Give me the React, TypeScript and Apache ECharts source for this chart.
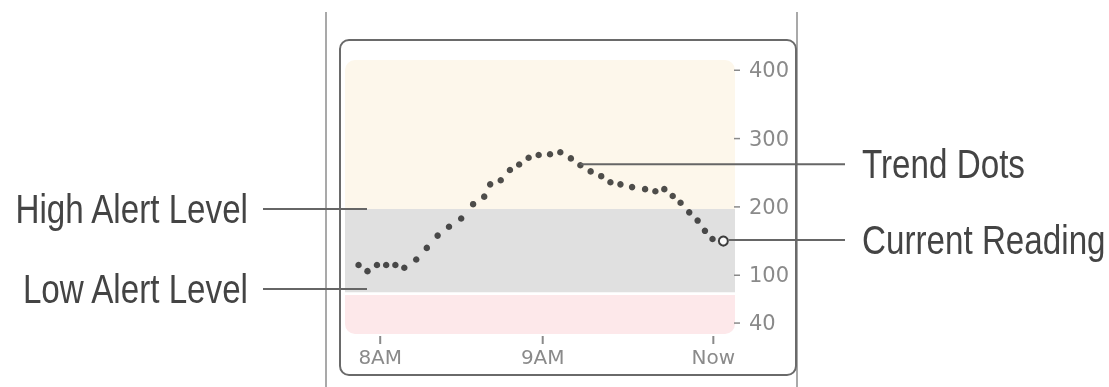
import React, { useEffect, useRef } from "react";
import * as echarts from "echarts";

// Trend dots: minutes after 8AM and glucose reading (display scale)
const minutes = [-8.0, -4.7, -1.2, 2.2, 5.6, 8.9, 13.3, 17.2, 21.2, 25.4, 29.9, 34.3, 38.4, 40.6, 44.5, 47.9, 51.3, 54.8, 58.5, 62.7, 66.5, 70.4, 73.9, 77.7, 81.6, 85.0, 88.7, 93.0, 97.8, 101.6, 104.9, 108.0, 110.9, 114.1, 117.2, 119.9, 122.7];
const glucose = [115, 106, 115, 115, 115, 111, 123, 140, 158, 171, 183, 204, 215, 233, 239, 254, 262, 272, 276, 277, 280, 271, 261, 252, 245, 236, 233, 229, 226, 223, 226, 216, 206, 192, 180, 165, 153];
const currentMinute = [126.7];
const currentValue = [150];

// Axis ticks
const xTickValues = [0, 60, 123];
const xTickLabels = ["8AM", "9AM", "Now"];
const yTickValues = [30, 100, 200, 300, 400];
const yTickLabels = ["40", "100", "200", "300", "400"];

// Bands (display scale): high, target, low
const bandFrom = [197, 75, 14];
const bandTo = [415, 197, 71];
const bandColors = ["#fdf7eb", "#e0e0e0", "#fde8ea"];
const bandRadii = [[10, 10, 0, 0], [0, 0, 0, 0], [0, 0, 10, 10]];

// Callouts
const highAlert = 197;
const lowAlert = 80;
const trendDotIndex = 22;

const X_MIN = -13;
const X_MAX = 131;
const Y_MIN = 14;
const Y_MAX = 415;

export default function App() {
  const ref = useRef<HTMLDivElement>(null);
  useEffect(() => {
    if (!ref.current) return;
    const chart = echarts.init(ref.current, null, { renderer: "svg" });
    const labelFont = "'DejaVu Sans', sans-serif";
    const tickColor = "#8a8a8a";
    chart.setOption({
      animation: false,
      grid: { left: 345, right: 374, top: 60, height: 274 },
      xAxis: {
        type: "value",
        min: X_MIN,
        max: X_MAX,
        axisLine: { show: false },
        splitLine: { show: false },
        axisTick: { show: false },
        axisLabel: {
          customValues: xTickValues,
          formatter: (v: number) => {
            const i = xTickValues.indexOf(v);
            return i < 0 ? "" : `{t| }\n{l|${xTickLabels[i]}}`;
          },
          margin: 2,
          rich: {
            t: { width: 2, height: 8, lineHeight: 8, fontSize: 8, backgroundColor: tickColor },
            l: { color: "#8a8a8a", fontSize: 20, lineHeight: 26, fontFamily: labelFont },
          },
        },
      },
      yAxis: {
        type: "value",
        position: "right",
        min: Y_MIN,
        max: Y_MAX,
        axisLine: { show: false },
        splitLine: { show: false },
        axisTick: { show: false },
        axisLabel: {
          customValues: yTickValues,
          formatter: (v: number) => yTickLabels[yTickValues.indexOf(v)] ?? "",
          color: "#8a8a8a",
          fontSize: 21,
          fontFamily: labelFont,
          margin: 14,
        },
      },
      series: [
        {
          type: "custom",
          silent: true,
          z: 1,
          data: bandFrom.map((f, i) => [f, bandTo[i]]),
          encode: { y: [0, 1] },
          renderItem: (params: any, api: any) => {
            const i = params.dataIndex;
            const cs = params.coordSys;
            const yTop = api.coord([0, api.value(1)])[1];
            const yBot = api.coord([0, api.value(0)])[1];
            return {
              type: "rect",
              shape: { x: cs.x, y: yTop, width: cs.width, height: yBot - yTop, r: bandRadii[i] },
              style: { fill: bandColors[i] },
            };
          },
        },
        {
          // y-axis tick marks
          type: "custom",
          silent: true,
          clip: false,
          z: 2,
          data: yTickValues.map((v) => [X_MAX, v]),
          renderItem: (params: any, api: any) => {
            const p = api.coord([api.value(0), api.value(1)]);
            return {
              type: "line",
              shape: { x1: p[0] - 1, y1: p[1], x2: p[0] + 5, y2: p[1] },
              style: { stroke: tickColor, lineWidth: 1.5 },
            };
          },
        },
        {
          type: "scatter",
          z: 3,
          symbol: "circle",
          symbolSize: 6.5,
          itemStyle: { color: "#222" },
          data: minutes.map((m, i) => [m, glucose[i]]),
        },
        {
          type: "scatter",
          z: 4,
          symbol: "circle",
          symbolSize: 9,
          itemStyle: { color: "#ffffff", borderColor: "#111", borderWidth: 2 },
          data: currentMinute.map((m, i) => [m, currentValue[i]]),
        },
      ],
    });

    const px = (x: number, y: number) => chart.convertToPixel({ gridIndex: 0 }, [x, y]) as number[];
    const yHigh = px(0, highAlert)[1];
    const yLow = px(0, lowAlert)[1];
    const trendPt = px(minutes[trendDotIndex], glucose[trendDotIndex]);
    const curPt = px(currentMinute[0], currentValue[0]);
    const calloutFont = "'Liberation Sans', Arial, sans-serif";
    const lineStyle = { stroke: "#666", lineWidth: 2 };
    const textEl = (x: number, y: number, t: string, align: string) => ({
      type: "text",
      x,
      y,
      scaleX: 0.83,
      z: 10,
      style: { text: t, fill: "#444", font: `40px ${calloutFont}`, align, verticalAlign: "middle" },
    });
    chart.setOption({
      graphic: [
        { type: "line", z: 10, shape: { x1: 326, y1: 12, x2: 326, y2: 387 }, style: { stroke: "#8c8c8c", lineWidth: 1.5 } },
        { type: "line", z: 10, shape: { x1: 797, y1: 12, x2: 797, y2: 387 }, style: { stroke: "#8c8c8c", lineWidth: 1.5 } },
        { type: "rect", z: 10, shape: { x: 340, y: 40, width: 456, height: 335, r: 9 }, style: { fill: "none", stroke: "#6a6a6a", lineWidth: 2 } },
        { type: "line", z: 10, shape: { x1: 263, y1: yHigh, x2: 367, y2: yHigh }, style: lineStyle },
        { type: "line", z: 10, shape: { x1: 263, y1: yLow, x2: 367, y2: yLow }, style: lineStyle },
        { type: "line", z: 10, shape: { x1: trendPt[0], y1: trendPt[1] - 1, x2: 845, y2: trendPt[1] - 1 }, style: lineStyle },
        { type: "line", z: 10, shape: { x1: curPt[0] + 5, y1: curPt[1] - 1, x2: 845, y2: curPt[1] - 1 }, style: lineStyle },
        textEl(248, yHigh, "High Alert Level", "right"),
        textEl(248, yLow, "Low Alert Level", "right"),
        textEl(862, trendPt[1] - 1, "Trend Dots", "left"),
        textEl(862, curPt[1] - 1, "Current Reading", "left"),
      ],
    });
    return () => chart.dispose();
  }, []);
  return <div ref={ref} style={{ position: "fixed", left: 0, top: 0, width: 1109, height: 387 }} />;
}
